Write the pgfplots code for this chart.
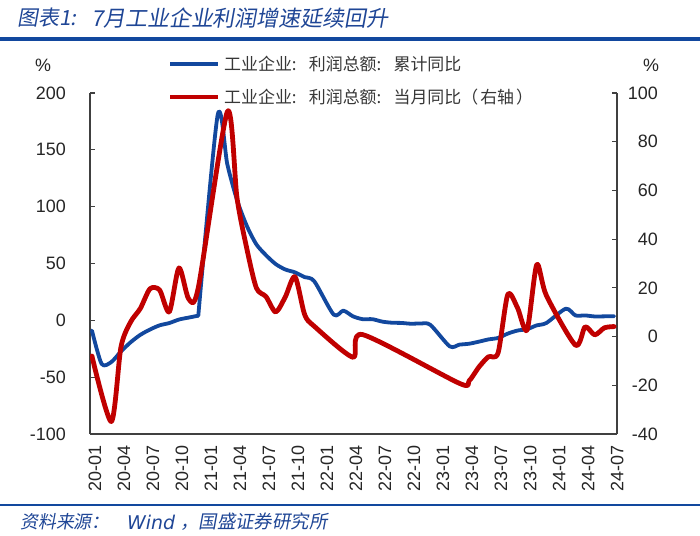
\documentclass[border=0pt]{standalone}
\usepackage{fontspec}
\setmainfont{Liberation Sans}
\newfontfamily\cjk{Noto Sans CJK SC}
\newfontfamily\cjkit[FakeSlant=0.18]{Noto Sans CJK SC}
\newfontfamily\dejavu{DejaVu Sans}
\usepackage{pgfplots}
\pgfplotsset{compat=1.18}
\definecolor{sblue}{RGB}{18,72,158}
\definecolor{sred}{RGB}{192,0,0}
\definecolor{tblue}{RGB}{31,70,150}
\definecolor{legtxt}{RGB}{55,55,55}
\newcommand\cc{\makebox[1em][l]{:}}
\begin{document}
\begin{tikzpicture}[x=1bp,y=1bp]
\useasboundingbox (0,0) rectangle (700,536);
\fill[white] (0,0) rectangle (700,536);
% title and rules
\node[anchor=west, inner sep=0, text=tblue, font=\cjkit\fontsize{21}{21}\selectfont] at (17,518) {图表1:};
\node[anchor=west, inner sep=0, text=tblue, font=\cjkit\fontsize{22}{22}\selectfont] at (91,518) {7月工业企业利润增速延续回升};
\draw[sblue, line width=3.5] (0,497) -- (700,497);
\draw[sblue, line width=2.5] (0,31) -- (700,31);
\node[anchor=west, inner sep=0, text=tblue, font=\cjkit\fontsize{18}{18}\selectfont] at (20,14) {资料来源：};
\node[anchor=west, inner sep=0, text=tblue, font=\dejavu\itshape\fontsize{19}{19}\selectfont] at (127,14) {Wind};
\node[anchor=west, inner sep=0, text=tblue, font=\cjkit\fontsize{18.5}{18.5}\selectfont] at (180,14) {，国盛证券研究所};

\begin{axis}[
  at={(90bp,102bp)}, anchor=south west, scale only axis,
  width=527bp, height=341bp,
  xmin=-0.2, xmax=54.3, ymin=-100, ymax=200,
  axis x line*=bottom, axis y line*=left,
  axis line style={-, black!75, line width=1.3bp},
  tick align=inside, major tick length=5bp,
  xtick={0,3,...,54},
  xticklabels={20-01,20-04,20-07,20-10,21-01,21-04,21-07,21-10,22-01,22-04,22-07,22-10,23-01,23-04,23-07,23-10,24-01,24-04,24-07},
  xtick style={draw=none},
  ytick={-100,-50,0,50,100,150,200},
  ytick style={black!75, line width=1.1bp},
  tick label style={font=\fontsize{18}{18}\selectfont, text=black!85},
  /pgf/number format/assume math mode=true,
  xticklabel style={xshift=3bp, rotate=90, anchor=east, inner sep=0pt},
  xticklabel shift=11bp,
  yticklabel style={anchor=east, inner sep=0pt},
  yticklabel shift=24bp,
]
\addplot[sblue, line width=3.8bp, smooth, tension=0.45, line join=round, line cap=round] coordinates {
(0,-9) (1,-38.3) (2,-36.7) (3,-27.4) (4,-19.3) (5,-12.8) (6,-8.1) (7,-4.4) (8,-2.4) (9,0.7) (10,2.4) (11,4.1)
};
\addplot[sblue, line width=3.8bp, smooth, tension=0.45, line join=round, line cap=round] coordinates {
(11,4.1)
(13,180.5) (14,137.3) (15,106.0) (16,83.4) (17,66.9) (18,57.3) (19,49.5) (20,44.7) (21,42.2) (22,38.0) (23,34.3)
(25,5.0) (26,8.5) (27,3.5) (28,1.0) (29,1.0) (30,-1.1) (31,-2.1) (32,-2.3) (33,-3.0) (34,-2.8) (35,-4.0)
(37,-22.9) (38,-21.4) (39,-20.6) (40,-18.8) (41,-16.8) (42,-15.5) (43,-11.7) (44,-9.0) (45,-7.8) (46,-4.4) (47,-2.3)
(49,10.2) (50,4.3) (51,4.3) (52,3.4) (53,3.5) (54,3.6)
};
\end{axis}

\begin{axis}[
  at={(90bp,102bp)}, anchor=south west, scale only axis,
  width=527bp, height=341bp,
  xmin=-0.2, xmax=54.3, ymin=-40, ymax=100,
  axis x line=none, axis y line*=right,
  axis line style={-, black!75, line width=1.3bp},
  tick align=inside, major tick length=5bp,
  ytick={-40,-20,0,20,40,60,80,100},
  ytick style={black!75, line width=1.1bp},
  tick label style={font=\fontsize{18}{18}\selectfont, text=black!85},
  /pgf/number format/assume math mode=true,
  yticklabel style={anchor=east, inner sep=0pt},
  yticklabel shift=41bp,
]
\addplot[sred, line width=4.8bp, smooth, tension=0.45, line join=round, line cap=round] coordinates {
(0,-8) (2,-34.9) (3,-4.3) (4,6.0) (5,11.5) (6,19.6) (7,19.1) (8,10.1) (9,28.2) (10,15.5) (11,20.1)
(14,92.3) (15,57.0) (16,36.4) (17,20.0) (18,16.4) (19,10.1) (20,16.3) (21,24.6) (22,9.0) (23,4.2)
(27,-8.5) (28,0.8)
(38,-19.2) (39,-18.2) (40,-12.6) (41,-8.3) (42,-6.7) (43,17.2) (44,11.9) (45,2.7) (46,29.5) (47,16.8)
(50,-3.5) (51,4.0) (52,0.7) (53,3.6) (54,4.1)
};
\end{axis}

% legend
\draw[sblue, line width=4] (170,472) -- (218,472);
\node[anchor=west, inner sep=0, text=legtxt, font=\cjk\fontsize{17}{17}\selectfont] at (224,472) {工业企业\cc 利润总额\cc 累计同比};
\draw[sred, line width=4.8] (170,439) -- (218,439);
\node[anchor=west, inner sep=0, text=legtxt, font=\cjk\fontsize{17}{17}\selectfont] at (224,439) {工业企业\cc 利润总额\cc 当月同比（\hspace{2bp}右轴\hspace{2bp}）};
% unit labels
\node[font=\fontsize{18}{18}\selectfont, text=black!85] at (43,471) {\%};
\node[font=\fontsize{18}{18}\selectfont, text=black!85] at (651,471) {\%};
\end{tikzpicture}
\end{document}
